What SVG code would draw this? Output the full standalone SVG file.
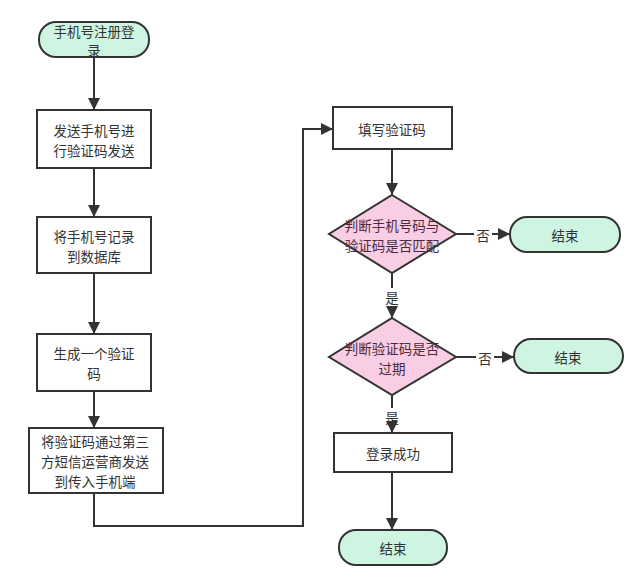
<svg xmlns="http://www.w3.org/2000/svg" width="638" height="584" viewBox="0 0 638 584">
<style>
text{font-family:"Noto Sans CJK SC","Liberation Sans",sans-serif;font-size:13.5px;fill:#333;text-anchor:middle;dominant-baseline:central}
.term rect{fill:#cdf5e2;stroke:#333;stroke-width:2}
.proc rect{fill:#fff;stroke:#333;stroke-width:2}
.dec polygon{fill:#f9cde3;stroke:#333;stroke-width:2}
.dec text{fill:#4a2b3d}
.conn path{fill:none;stroke:#333;stroke-width:2}
</style>
<defs>
<marker id="ah" viewBox="0 0 10 10" refX="10" refY="5" markerWidth="6" markerHeight="6" markerUnits="strokeWidth" orient="auto">
<path d="M0,0 L10,5 L0,10 z" fill="#333"/>
</marker>
</defs>
<rect width="638" height="584" fill="#fff"/>
<g class="conn">
<path d="M94,57 V110" marker-end="url(#ah)"/>
<path d="M94,168 V217" marker-end="url(#ah)"/>
<path d="M94,273 V334" marker-end="url(#ah)"/>
<path d="M94,391 V428" marker-end="url(#ah)"/>
<path d="M94,493 V526 H303 V129 H333" marker-end="url(#ah)"/>
<path d="M392,149 V195" marker-end="url(#ah)"/>
<path d="M456,234 H474 M492,234 H510" marker-end="url(#ah)"/>
<path d="M392,273 V288 M392,306 V318" marker-end="url(#ah)"/>
<path d="M456,357 H476 M494,357 H514" marker-end="url(#ah)"/>
<path d="M392,395 V408 M392,426 V433" marker-end="url(#ah)"/>
<path d="M392,472 V530" marker-end="url(#ah)"/>
<text x="483" y="235">否</text>
<text x="392" y="297">是</text>
<text x="485" y="358">否</text>
<text x="392" y="417">是</text>
</g>
<g id="start" class="term">
<rect x="39" y="22" width="110" height="35" rx="17"/>
<text x="94" y="31">手机号注册登</text>
<text x="94" y="50">录</text>
</g>
<g id="send" class="proc">
<rect x="37" y="110" width="114" height="58"/>
<text x="94" y="130">发送手机号进</text>
<text x="94" y="150">行验证码发送</text>
</g>
<g id="record" class="proc">
<rect x="37" y="217" width="114" height="56"/>
<text x="94" y="236">将手机号记录</text>
<text x="94" y="256">到数据库</text>
</g>
<g id="gen" class="proc">
<rect x="37" y="334" width="114" height="57"/>
<text x="94" y="353">生成一个验证</text>
<text x="94" y="373">码</text>
</g>
<g id="sms" class="proc">
<rect x="29" y="428" width="134" height="65"/>
<text x="95" y="441">将验证码通过第三</text>
<text x="95" y="461">方短信运营商发送</text>
<text x="95" y="481">到传入手机端</text>
</g>
<g id="fill" class="proc">
<rect x="333" y="107" width="119" height="42"/>
<text x="392" y="129">填写验证码</text>
</g>
<g id="match" class="dec">
<polygon points="392,195 456,234 392,273 329,234"/>
<text x="392" y="225">判断手机号码与</text>
<text x="392" y="245">验证码是否匹配</text>
</g>
<g id="end1" class="term">
<rect x="510" y="217" width="110" height="35" rx="17"/>
<text x="565" y="235">结束</text>
</g>
<g id="expire" class="dec">
<polygon points="392,318 456,357 392,395 329,357"/>
<text x="392" y="348">判断验证码是否</text>
<text x="392" y="368">过期</text>
</g>
<g id="end2" class="term">
<rect x="514" y="339" width="109" height="34" rx="17"/>
<text x="568" y="357">结束</text>
</g>
<g id="ok" class="proc">
<rect x="334" y="433" width="118" height="39"/>
<text x="393" y="453">登录成功</text>
</g>
<g id="end3" class="term">
<rect x="339" y="530" width="108" height="35" rx="17"/>
<text x="393" y="548">结束</text>
</g>
</svg>
